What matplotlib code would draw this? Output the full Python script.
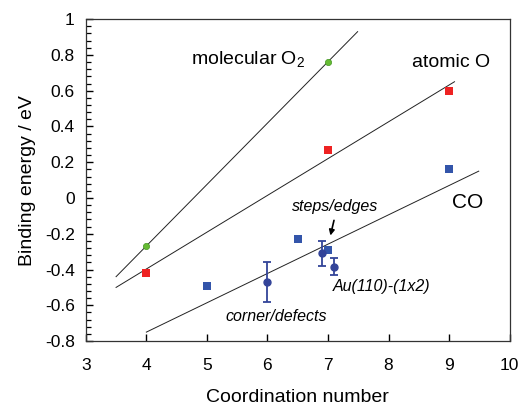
import matplotlib.pyplot as plt
import numpy as np
from matplotlib.ticker import MultipleLocator

plt.rcParams['font.family'] = ['Liberation Sans', 'DejaVu Sans']
plt.rcParams['mathtext.fontset'] = 'custom'
plt.rcParams['mathtext.rm'] = 'Liberation Sans'

# molecular O2
o2_x = [4, 7]
o2_y = [-0.27, 0.76]
o2_fit = ([3.5, 7.49], [-0.44, 0.93])

# atomic O
o_x = [4, 7, 9]
o_y = [-0.42, 0.27, 0.60]
o_fit = ([3.5, 9.09], [-0.50, 0.65])

# CO squares
co_x = [5, 6.5, 7, 9]
co_y = [-0.49, -0.23, -0.29, 0.16]
co_fit = ([4.0, 9.49], [-0.75, 0.15])

# CO with error bars
coe_x = [6.0, 6.9, 7.1]
coe_y = [-0.47, -0.31, -0.385]
coe_err = [0.11, 0.07, 0.048]

fig = plt.figure(figsize=(5.2, 4.07), dpi=100)
ax = fig.add_axes([0.165, 0.162, 0.815, 0.791])

for fx, fy in (o2_fit, o_fit, co_fit):
    ax.plot(fx, fy, color='#222222', lw=0.7)

ax.plot(o2_x, o2_y, 'o', color='#66bb33', ms=4.5, mec='#449922', mew=0.5)
ax.plot(o_x, o_y, 's', color='#ee2222', ms=6, mew=0)
ax.plot(co_x, co_y, 's', color='#3355aa', ms=6, mew=0)
ax.errorbar(coe_x, coe_y, yerr=coe_err, fmt='o', color='#334499', ms=5,
            elinewidth=1.3, capsize=3, capthick=1.3)

ax.text(4.73, 0.775, r'molecular O$_\mathrm{2}$', fontsize=14, va='center')
ax.text(8.39, 0.76, 'atomic O', fontsize=14, va='center')
ax.text(9.31, -0.025, 'CO', fontsize=15, ha='center', va='center')
ax.text(7.11, -0.049, 'steps/edges', fontsize=11.5, style='italic',
        ha='center', va='center')
ax.text(7.88, -0.496, 'Au(110)-(1x2)', fontsize=11.5, style='italic',
        ha='center', va='center')
ax.text(6.14, -0.66, 'corner/defects', fontsize=11.5, style='italic',
        ha='center', va='center')
ax.annotate('', xy=(7.03, -0.225), xytext=(7.11, -0.11),
            arrowprops=dict(arrowstyle='-|>', color='black', lw=1.2,
                            mutation_scale=8))

ax.set_xlim(3, 10)
ax.set_ylim(-0.8, 1)
ax.xaxis.set_major_locator(MultipleLocator(1))
ax.yaxis.set_major_locator(MultipleLocator(0.2))
ax.yaxis.set_minor_locator(MultipleLocator(0.04))
ax.tick_params(which='major', direction='in', labelsize=12.5, length=5, width=1.0)
ax.tick_params(axis='x', pad=12)
ax.tick_params(axis='y', pad=8)
ax.tick_params(which='minor', direction='in', length=3.5, width=0.9)
ax.yaxis.set_major_formatter(plt.FuncFormatter(
    lambda v, p: '%g' % round(v, 2) if abs(v) > 1e-9 else '0'))
ax.set_xlabel('Coordination number', fontsize=14, labelpad=12)
ax.set_ylabel('Binding energy / eV', fontsize=14, labelpad=6)
for s in ax.spines.values():
    s.set_linewidth(0.9)
    s.set_color('#333333')

fig.savefig('out.png', dpi=100)
